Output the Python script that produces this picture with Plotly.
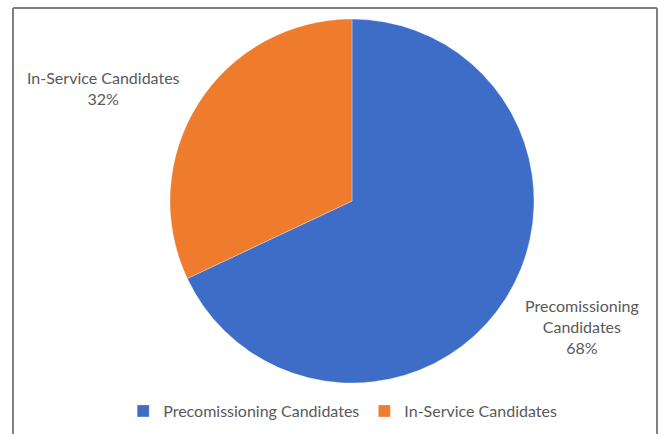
import plotly.graph_objects as go

labels = ["Precomissioning Candidates", "In-Service Candidates"]
values = [68, 32]
colors = ["#3E6DC8", "#EF7B2D"]
label_text = ["Precomissioning<br>Candidates<br>68%", "In-Service Candidates<br>32%"]

W, H = 659, 434
cx, cy, r = 352, 201, 182

fig = go.Figure(go.Pie(
    labels=labels, values=values, sort=False, direction="clockwise", rotation=0,
    marker=dict(colors=colors, line=dict(color="rgba(255,255,255,0.6)", width=0.5)),
    textinfo="none", hoverinfo="label+percent",
    domain=dict(x=[(cx - r) / W, (cx + r) / W], y=[1 - (cy + r) / H, 1 - (cy - r) / H]),
))

font_color = "#595959"
fig.add_annotation(x=582 / W, y=1 - 326 / H, xref="paper", yref="paper", text=label_text[0],
                   xanchor="center", yanchor="middle",
                   showarrow=False, font=dict(size=16, color=font_color, family="Lato"), align="center")
fig.add_annotation(x=103 / W, y=1 - 88 / H, xref="paper", yref="paper", text=label_text[1],
                   xanchor="center", yanchor="middle",
                   showarrow=False, font=dict(size=16, color=font_color, family="Lato"), align="center")

border = "#7f7f7f"
xl, xr, yt = 13 / W, 657 / W, 1 - 8 / H
for x0, y0, x1, y1 in [(xl, -0.01, xl, yt), (xl, yt, xr, yt), (xr, yt, xr, -0.01)]:
    fig.add_shape(type="line", xref="paper", yref="paper", x0=x0, y0=y0, x1=x1, y1=y1,
                  line=dict(color=border, width=2))

fig.update_layout(
    width=W, height=H, margin=dict(l=0, r=0, t=0, b=0),
    paper_bgcolor="white", plot_bgcolor="white",
    showlegend=True,
    legend=dict(orientation="h", x=0.52, xanchor="center", y=1 - 411 / H, yanchor="middle",
                font=dict(size=16, color=font_color, family="Lato"), itemwidth=30,
                traceorder="normal"),
)

fig.write_html("out.html")
